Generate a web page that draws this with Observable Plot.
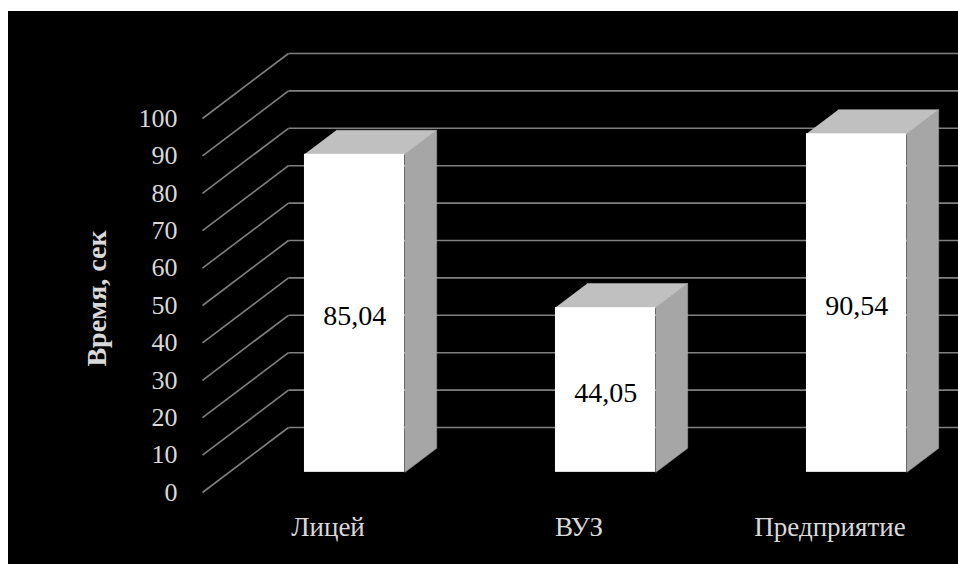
<!DOCTYPE html>
<html>
<head>
<meta charset="utf-8">
<script src="https://cdn.jsdelivr.net/npm/d3@7"></script>
<script src="https://cdn.jsdelivr.net/npm/@observablehq/plot@0.6"></script>
<style>
  html, body { margin: 0; padding: 0; background: #ffffff; }
  #chart { padding: 11px 0 0 8px; width: 950px; height: 553px; }
  #chart svg { display: block; }
  #chart svg text { font-family: "Liberation Serif", "Times New Roman", serif; }
</style>
</head>
<body>
<div id="chart"></div>
<script>
// ---- data ----
const categories = ["Лицей", "ВУЗ", "Предприятие"];
const values = [85.04, 44.05, 90.54];
const valueLabels = ["85,04", "44,05", "90,54"];
const yTicks = [0, 10, 20, 30, 40, 50, 60, 70, 80, 90, 100];
const yTitle = "Время, сек";

// ---- layout / 3D projection ----
const W = 950, H = 553;
const mL = 194, mR = 3, mT = 107, mB = 72;
const pxPerX = (W - mL - mR) / categories.length;
const pxPerY = (H - mT - mB) / 100;
const DX = 86 / pxPerX;   // full depth in x units
const DY = 65 / pxPerY;   // full depth in y units
const F0 = 0.31, F1 = 0.68; // bar front/back depth fraction
const HALF = 0.2;          // half bar width in x units

const bars = categories.map((c, i) => ({c, i, v: values[i], label: valueLabels[i]}));

const P = (x, y, f) => ({x: x + f * DX, y: y + f * DY});
const sidePts = [], topPts = [];
bars.forEach(b => {
  const xr = b.i + HALF, xl = b.i - HALF;
  [P(xr, 0, F0), P(xr, 0, F1), P(xr, b.v, F1), P(xr, b.v, F0)].forEach(p => sidePts.push({...p, id: b.c}));
  [P(xl, b.v, F0), P(xr, b.v, F0), P(xr, b.v, F1), P(xl, b.v, F1)].forEach(p => topPts.push({...p, id: b.c}));
});

const font = "Liberation Serif";

const chart = Plot.plot({
  width: W,
  height: H,
  marginLeft: mL,
  marginRight: mR,
  marginTop: mT,
  marginBottom: mB,
  x: {domain: [-0.5, categories.length - 0.5], axis: null},
  y: {domain: [0, 100], axis: null},
  style: {background: "#000000", overflow: "visible"},
  marks: [
    // back wall gridlines
    Plot.link(yTicks, {x1: -0.5 + DX, x2: categories.length + 0.5, y1: d => d + DY, y2: d => d + DY,
      stroke: "#808080", strokeWidth: 1.6}),
    // side wall gridlines
    Plot.link(yTicks, {x1: -0.5, y1: d => d, x2: -0.5 + DX, y2: d => d + DY,
      stroke: "#808080", strokeWidth: 1.6}),
    // bar side faces
    Plot.line(sidePts, {x: "x", y: "y", z: "id", fill: "#a6a6a6", stroke: "#a6a6a6", strokeWidth: 0.5}),
    // bar top faces
    Plot.line(topPts, {x: "x", y: "y", z: "id", fill: "#c0c0c0", stroke: "#c0c0c0", strokeWidth: 0.5}),
    // bar front faces
    Plot.rect(bars, {x1: d => d.i - HALF + F0 * DX, x2: d => d.i + HALF + F0 * DX,
      y1: F0 * DY, y2: d => d.v + F0 * DY, fill: "#ffffff"}),
    // value labels
    Plot.text(bars, {x: d => d.i + F0 * DX, y: d => d.v / 2 + F0 * DY, dy: 3, text: "label",
      fill: "#000000", fontSize: 28, fontFamily: font}),
    // y tick labels
    Plot.text(yTicks, {y: d => d, frameAnchor: "left", dx: -25, textAnchor: "end",
      text: d => String(d), fill: "#d9d9d9", fontSize: 26, fontFamily: font}),
    // category labels
    Plot.text(bars, {x: "i", frameAnchor: "bottom", dy: 43, text: "c", fill: "#d9d9d9", fontSize: 27, fontFamily: font}),
    // y title
    Plot.text([yTitle], {frameAnchor: "left", dx: -105, dy: -7, rotate: -90, textAnchor: "middle", text: d => d,
      fill: "#d9d9d9", fontSize: 28, fontWeight: "bold", fontFamily: font})
  ]
});
document.getElementById("chart").appendChild(chart);
</script>
</body>
</html>
